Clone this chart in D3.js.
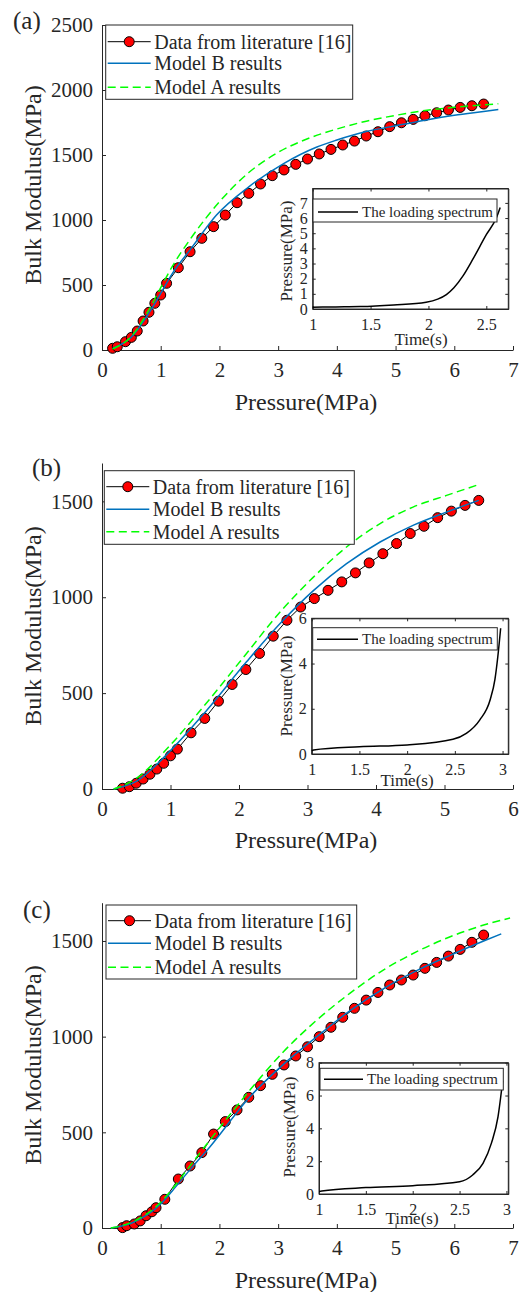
<!DOCTYPE html>
<html><head><meta charset="utf-8">
<script src="https://cdn.jsdelivr.net/npm/d3@7"></script>
<style>body{margin:0;background:#fff}svg{display:block}text{font-family:"Liberation Serif","Times New Roman",serif;fill:#262626}</style>
</head><body><div id="c"></div>
<script>
// ---------- DATA ----------
const xTicks7 = [0,1,2,3,4,5,6,7];
const xTicks6 = [0,1,2,3,4,5,6];
const yTicksA = [0,500,1000,1500,2000,2500];
const yTicksBC = [0,500,1000,1500];
const legendLabels = ["Data from literature [16]","Model B results","Model A results"];
const insetLegend = "The loading spectrum";

// panel (a)
const dataAx = [0.18,0.26,0.4,0.5,0.6,0.7,0.8,0.9,1.0,1.1,1.3,1.5,1.7,1.9,2.1,2.3,2.5,2.7,2.9,3.1,3.3,3.5,3.7,3.9,4.1,4.3,4.5,4.7,4.9,5.1,5.3,5.5,5.7,5.9,6.1,6.3,6.5];
const dataAy = [13,25,64,97,146,223,290,359,423,513,633,756,859,949,1038,1133,1205,1277,1341,1385,1428,1469,1508,1543,1577,1607,1646,1679,1718,1748,1774,1802,1825,1846,1866,1879,1892];
const modelBAx = [0.18,0.5,0.8,1.0,1.2,1.5,1.95,2.5,3.1,3.65,4.0,4.5,5.0,5.5,6.0,6.5,6.75];
const modelBAy = [12,100,285,435,590,770,1038,1255,1436,1560,1615,1680,1725,1768,1805,1835,1850];
const modelAAx = [0.18,0.5,0.8,1.0,1.2,1.5,2.0,2.5,3.0,3.5,4.0,4.5,5.0,5.5,6.0,6.5,6.75];
const modelAAy = [8,105,310,480,645,850,1140,1365,1520,1625,1700,1760,1805,1842,1867,1886,1894];
const specAt = [1.0,1.2,1.41,1.7,1.98,2.08,2.155,2.22,2.3,2.385,2.5,2.586,2.62];
const specAp = [0.12,0.14,0.16,0.27,0.45,0.65,0.95,1.4,2.2,3.3,4.9,6.0,6.7];
const insetAxTicks = [1,1.5,2,2.5];
const insetAyTicks = [0,1,2,3,4,5,6,7];

// panel (b)
const dataBx = [0.3,0.4,0.5,0.6,0.7,0.8,0.9,1.0,1.1,1.3,1.5,1.7,1.9,2.1,2.3,2.5,2.7,2.9,3.1,3.3,3.5,3.7,3.9,4.1,4.3,4.5,4.7,4.9,5.1,5.3,5.5];
const dataBy = [4,12,30,52,77,104,134,173,208,293,368,458,545,623,707,797,880,949,993,1036,1080,1127,1179,1227,1280,1332,1370,1415,1449,1479,1505];
const modelBBx = [0.17,0.5,1.0,1.53,2.11,2.6,3.09,3.57,4.06,4.54,5.03,5.5];
const modelBBy = [0,40,200,411,663,863,1036,1175,1288,1375,1444,1505];
const modelABx = [0.17,0.5,1.0,1.48,2.11,2.6,3.09,3.57,4.06,4.54,5.03,5.52];
const modelABy = [0,55,230,429,707,923,1106,1262,1384,1470,1531,1590];
const specBt = [1.0,1.02,1.5,2.0,2.48,2.62,2.76,2.87,2.92,2.95,2.98];
const specBp = [0.15,0.18,0.32,0.4,0.65,0.91,1.5,2.4,3.3,4.3,5.56];
const insetBxTicks = [1,1.5,2,2.5,3];
const insetByTicks = [0,2,4,6];

// panel (c)
const dataCx = [0.35,0.42,0.55,0.65,0.75,0.85,0.92,1.07,1.3,1.5,1.7,1.9,2.1,2.3,2.5,2.7,2.9,3.1,3.3,3.5,3.7,3.9,4.1,4.3,4.5,4.7,4.9,5.1,5.3,5.5,5.7,5.9,6.1,6.3,6.5];
const dataCy = [2,12,21,37,64,85,106,150,256,324,394,491,556,617,683,744,803,852,899,947,1000,1049,1101,1148,1191,1231,1270,1296,1322,1357,1388,1421,1456,1493,1531];
const modelBCx = [0.15,0.5,1.0,1.2,1.5,1.84,2.52,3.09,3.66,4.22,4.79,5.36,5.93,6.5,6.8];
const modelBCy = [0,25,125,195,305,425,686,855,1000,1135,1250,1345,1425,1500,1537];
const modelACx = [0.15,0.5,1.0,1.2,1.5,1.84,2.52,3.09,3.66,4.22,4.79,5.36,5.93,6.5,6.95];
const modelACy = [0,30,135,205,325,460,721,921,1087,1226,1348,1444,1522,1583,1620];
const specCt = [1.0,1.03,1.5,2.0,2.5,2.64,2.75,2.84,2.91,2.96];
const specCp = [0.15,0.18,0.39,0.51,0.75,1.16,1.87,3.1,4.7,6.9];
const insetCxTicks = [1,1.5,2,2.5,3];
const insetCyTicks = [0,2,4,6,8];

// ---------- LAYOUT ----------
const zip = (a,b) => a.map((v,i)=>[v,b[i]]);
const panels = [
 {tag:"(a)", tagX:13, tagY:29, xDom:[0,7], yDom:[0,2500], y0:350, yTop:25, xT:xTicks7, yT:yTicksA,
  data:zip(dataAx,dataAy), mB:zip(modelBAx,modelBAy), mA:zip(modelAAx,modelAAy), ylabY:185, xlabY:402,
  leg:{x:105.7,y:25,w:247,h:74.3,rows:[41.7,63.3,87.3]},
  ins:{x0:312.7,x1:508.3,y0:309,y1:188.5,xDom:[1,2.69],yDom:[0,7.95],xT:insetAxTicks,yT:insetAyTicks,
       spec:zip(specAt,specAp), leg:{x:313,y:199,w:184,h:23,ly:212,lx0:318,lx1:358,tx:362}, ylab:[286,251], tlab:[421,339]}},
 {tag:"(b)", tagX:32, tagY:476, xDom:[0,6], yDom:[0,1700], y0:789, yTop:463, xT:xTicks6, yT:yTicksBC,
  data:zip(dataBx,dataBy), mB:zip(modelBBx,modelBBy), mA:zip(modelABx,modelABy), ylabY:626, xlabY:840,
  leg:{x:104.3,y:470.7,w:250,h:73.6,rows:[486.7,509.3,531.7]},
  ins:{x0:311.7,x1:508.3,y0:754,y1:618.3,xDom:[1,3.06],yDom:[0,6],xT:insetBxTicks,yT:insetByTicks,
       spec:zip(specBt,specBp), leg:{x:312.7,y:627.7,w:184.6,h:22.3,ly:639.3,lx0:317,lx1:358,tx:362}, ylab:[286,686], tlab:[407,780]}},
 {tag:"(c)", tagX:23, tagY:918, xDom:[0,7], yDom:[0,1700], y0:1228, yTop:902.7, xT:xTicks7, yT:yTicksBC,
  data:zip(dataCx,dataCy), mB:zip(modelBCx,modelBCy), mA:zip(modelACx,modelACy), ylabY:1065, xlabY:1280,
  leg:{x:106,y:905,w:250.7,h:74,rows:[920.7,943.3,967.3]},
  ins:{x0:319,x1:508.3,y0:1194,y1:1062.7,xDom:[1,3.02],yDom:[0,8],xT:insetCxTicks,yT:insetCyTicks,
       spec:zip(specCt,specCp), leg:{x:320,y:1068.3,w:183.3,h:21.7,ly:1079.3,lx0:324,lx1:363,tx:367}, ylab:[289,1127], tlab:[412,1218]}}
];

const svg = d3.select("#c").append("svg").attr("width",524).attr("height",1292);
const AX = "#262626", BLUE = "#0072BD", GREEN = "#00FF00", RED = "#FF0000";

function styleAxis(g, fs){
  g.select(".domain").attr("stroke",AX).attr("stroke-width",1);
  g.selectAll(".tick line").attr("stroke",AX).attr("stroke-width",1);
  g.selectAll(".tick text").attr("font-size",fs).attr("fill",AX).style("font-family","Liberation Serif");
}

panels.forEach(p=>{
  const g = svg.append("g");
  const x = d3.scaleLinear().domain(p.xDom).range([102,513]);
  const y = d3.scaleLinear().domain(p.yDom).range([p.y0,p.yTop]);

  const gx = g.append("g").attr("transform",`translate(0,${p.y0})`)
    .call(d3.axisBottom(x).tickValues(p.xT).tickFormat(d3.format("d")).tickSizeInner(-4).tickSizeOuter(0).tickPadding(12));
  styleAxis(gx,21);
  const gy = g.append("g").attr("transform",`translate(102,0)`)
    .call(d3.axisLeft(y).tickValues(p.yT).tickFormat(d3.format("d")).tickSizeInner(-4).tickSizeOuter(0).tickPadding(9));
  styleAxis(gy,21);

  g.append("text").attr("x",p.tagX).attr("y",p.tagY).attr("font-size",25).text(p.tag);
  g.append("text").attr("transform",`translate(33,${p.ylabY}) rotate(-90)`).attr("text-anchor","middle")
    .attr("dominant-baseline","central").attr("font-size",24).text("Bulk Modulus(MPa)");
  g.append("text").attr("x",306).attr("y",p.xlabY).attr("text-anchor","middle")
    .attr("dominant-baseline","central").attr("font-size",24).text("Pressure(MPa)");

  const line = d3.line().x(d=>x(d[0])).y(d=>y(d[1]));
  const smooth = d3.line().x(d=>x(d[0])).y(d=>y(d[1])).curve(d3.curveMonotoneX);
  g.append("path").attr("d",line(p.data)).attr("fill","none").attr("stroke","#000").attr("stroke-width",1);
  g.selectAll("circle.pt").data(p.data).enter().append("circle").attr("class","pt")
    .attr("cx",d=>x(d[0])).attr("cy",d=>y(d[1])).attr("r",5).attr("fill",RED).attr("stroke","#000").attr("stroke-width",1);
  g.append("path").attr("d",smooth(p.mB)).attr("fill","none").attr("stroke",BLUE).attr("stroke-width",1.5);
  g.append("path").attr("d",smooth(p.mA)).attr("fill","none").attr("stroke",GREEN).attr("stroke-width",1.5).attr("stroke-dasharray","8,4.5");

  // main legend
  const L = p.leg;
  g.append("rect").attr("x",L.x).attr("y",L.y).attr("width",L.w).attr("height",L.h).attr("fill","#fff").attr("stroke",AX).attr("stroke-width",1);
  const sw = [{c:"#000",d:null,m:true},{c:BLUE,d:null},{c:GREEN,d:"8,4.5"}];
  L.rows.forEach((ry,i)=>{
    g.append("line").attr("x1",L.x+2).attr("x2",L.x+45).attr("y1",ry).attr("y2",ry)
      .attr("stroke",sw[i].c).attr("stroke-width",i===0?1:1.5).attr("stroke-dasharray",sw[i].d);
    if(sw[i].m) g.append("circle").attr("cx",L.x+23.5).attr("cy",ry).attr("r",5).attr("fill",RED).attr("stroke","#000");
    g.append("text").attr("x",L.x+48.5).attr("y",ry).attr("dominant-baseline","central").attr("font-size",20).text(legendLabels[i]);
  });

  // inset
  const I = p.ins;
  const ix = d3.scaleLinear().domain(I.xDom).range([I.x0,I.x1]);
  const iy = d3.scaleLinear().domain(I.yDom).range([I.y0,I.y1]);
  g.append("rect").attr("x",I.x0).attr("y",I.y1).attr("width",I.x1-I.x0).attr("height",I.y0-I.y1).attr("fill","#fff");
  const fmt = d=>String(d);
  const ib = g.append("g").attr("transform",`translate(0,${I.y0})`)
    .call(d3.axisBottom(ix).tickValues(I.xT).tickFormat(fmt).tickSizeInner(-3).tickSizeOuter(0).tickPadding(10));
  styleAxis(ib,16);
  const it = g.append("g").attr("transform",`translate(0,${I.y1})`)
    .call(d3.axisTop(ix).tickValues(I.xT).tickFormat("").tickSizeInner(-3).tickSizeOuter(0));
  styleAxis(it,15);
  const il = g.append("g").attr("transform",`translate(${I.x0},0)`)
    .call(d3.axisLeft(iy).tickValues(I.yT).tickFormat(fmt).tickSizeInner(-3).tickSizeOuter(0).tickPadding(5));
  styleAxis(il,16);
  const ir = g.append("g").attr("transform",`translate(${I.x1},0)`)
    .call(d3.axisRight(iy).tickValues(I.yT).tickFormat("").tickSizeInner(-3).tickSizeOuter(0));
  styleAxis(ir,15);
  g.append("rect").attr("x",I.x0).attr("y",I.y1).attr("width",I.x1-I.x0).attr("height",I.y0-I.y1).attr("fill","none").attr("stroke",AX).attr("stroke-width",1);
  const il2 = d3.line().x(d=>ix(d[0])).y(d=>iy(d[1])).curve(d3.curveMonotoneX);
  g.append("path").attr("d",il2(I.spec)).attr("fill","none").attr("stroke","#000").attr("stroke-width",1.5);
  const IL = I.leg;
  g.append("rect").attr("x",IL.x).attr("y",IL.y).attr("width",IL.w).attr("height",IL.h).attr("fill","#fff").attr("stroke",AX).attr("stroke-width",1);
  g.append("line").attr("x1",IL.lx0).attr("x2",IL.lx1).attr("y1",IL.ly).attr("y2",IL.ly).attr("stroke","#000").attr("stroke-width",1.5);
  g.append("text").attr("x",IL.tx).attr("y",IL.ly).attr("dominant-baseline","central").attr("font-size",15).text(insetLegend);
  g.append("text").attr("transform",`translate(${I.ylab[0]},${I.ylab[1]}) rotate(-90)`).attr("text-anchor","middle")
    .attr("dominant-baseline","central").attr("font-size",17).text("Pressure(MPa)");
  g.append("text").attr("x",I.tlab[0]).attr("y",I.tlab[1]).attr("text-anchor","middle")
    .attr("dominant-baseline","central").attr("font-size",17).text("Time(s)");
});
</script></body></html>
